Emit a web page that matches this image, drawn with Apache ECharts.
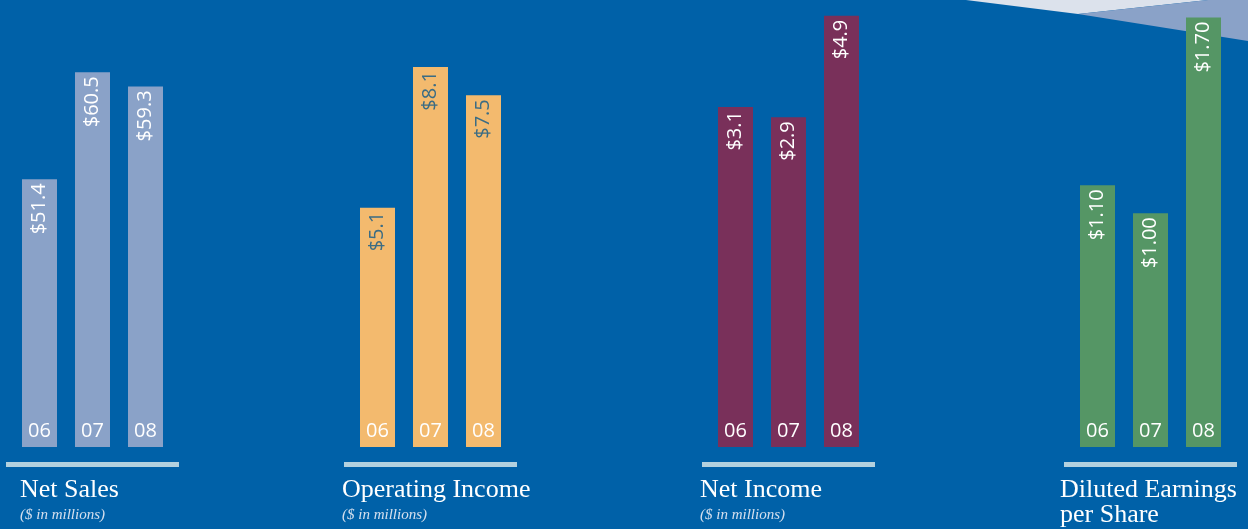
<!DOCTYPE html>
<html>
<head>
<meta charset="utf-8">
<script src="https://cdn.jsdelivr.net/npm/echarts@6/dist/echarts.min.js"></script>
<style>
  html, body { margin: 0; padding: 0; background: #0061a8; }
  #chart { width: 1248px; height: 529px; }
</style>
</head>
<body>
<div id="chart"></div>
<script>
// Fiscal years shown under every panel
var years = ['06', '07', '08'];

// Financial highlights, one array per panel
var netSales = [51.4, 60.5, 59.3];          // $ in millions
var operatingIncome = [5.1, 8.1, 7.5];      // $ in millions
var netIncome = [3.1, 2.9, 4.9];            // $ in millions
var dilutedEps = [1.10, 1.00, 1.70];        // $ per share

// Panel titles
var panelTitles = ['Net Sales', 'Operating Income', 'Net Income', 'Diluted Earnings\nper Share'];
var panelSubtitles = ['($ in millions)', '($ in millions)', '($ in millions)', ''];

var panels = [
  { data: netSales, decimals: 1, color: '#8aa2c8', labelColor: '#ffffff', left: 13, yMin: 28.66, yMax: 66.64, lineX: 6, titleX: 20 },
  { data: operatingIncome, decimals: 1, color: '#f3ba6e', labelColor: '#3b6c84', left: 351, yMin: 0, yMax: 9.53, lineX: 344, titleX: 342 },
  { data: netIncome, decimals: 1, color: '#79305a', labelColor: '#ffffff', left: 709, yMin: -3.6, yMax: 5.21, lineX: 702, titleX: 700 },
  { data: dilutedEps, decimals: 2, color: '#559665', labelColor: '#ffffff', left: 1071, yMin: 0.1635, yMax: 1.763, lineX: 1064, titleX: 1060 }
];

var grids = [], xAxes = [], yAxes = [], series = [];
var graphics = [
  // pale wedges in the upper right corner
  { type: 'polygon', z: 0, shape: { points: [[966, 0], [1078, 14], [1208, 0]] }, style: { fill: '#dce2ec' } },
  { type: 'polygon', z: 0, shape: { points: [[1078, 14], [1208, 0], [1248, 0], [1248, 41]] }, style: { fill: '#8aa2c8' } }
];

panels.forEach(function (p, i) {
  grids.push({ left: p.left, top: 0, width: 159, bottom: 82 });
  xAxes.push({
    type: 'category', gridIndex: i, data: years,
    axisLine: { show: false }, axisTick: { show: false }, splitLine: { show: false },
    axisLabel: { inside: true, margin: 6, color: '#ffffff', fontSize: 20, fontFamily: 'Open Sans' },
    z: 5
  });
  // bars rise from the bottom of each panel
  yAxes.push({ type: 'value', gridIndex: i, min: p.yMin, max: p.yMax, startValue: p.yMin, show: false });
  series.push({
    type: 'bar', xAxisIndex: i, yAxisIndex: i, data: p.data,
    barWidth: 35,
    itemStyle: { color: p.color },
    label: {
      show: true, position: 'insideTop', rotate: 90, distance: 4,
      align: 'right', verticalAlign: 'middle',
      color: p.labelColor, fontSize: 20, fontFamily: 'Open Sans',
      formatter: (function (d) { return function (v) { return '$' + v.value.toFixed(d); }; })(p.decimals)
    }
  });
  graphics.push({ type: 'rect', z: 1, shape: { x: p.lineX, y: 462, width: 173, height: 5 }, style: { fill: '#b3d1df' } });
  graphics.push({
    type: 'text', z: 1, x: p.titleX, y: 478,
    style: {
      text: panelTitles[i], fill: '#ffffff', font: '26px "Liberation Serif"',
      lineHeight: 25, verticalAlign: 'top', align: 'left'
    }
  });
  if (panelSubtitles[i]) {
    graphics.push({
      type: 'text', z: 1, x: p.titleX, y: 515,
      style: {
        text: panelSubtitles[i], fill: '#d5e0ee', font: 'italic 15px "Liberation Serif"',
        verticalAlign: 'middle', align: 'left'
      }
    });
  }
});

var chart = echarts.init(document.getElementById('chart'), null, { renderer: 'canvas' });
chart.setOption({
  backgroundColor: '#0061a8',
  animation: false,
  grid: grids,
  xAxis: xAxes,
  yAxis: yAxes,
  series: series,
  graphic: graphics
});
</script>
</body>
</html>
